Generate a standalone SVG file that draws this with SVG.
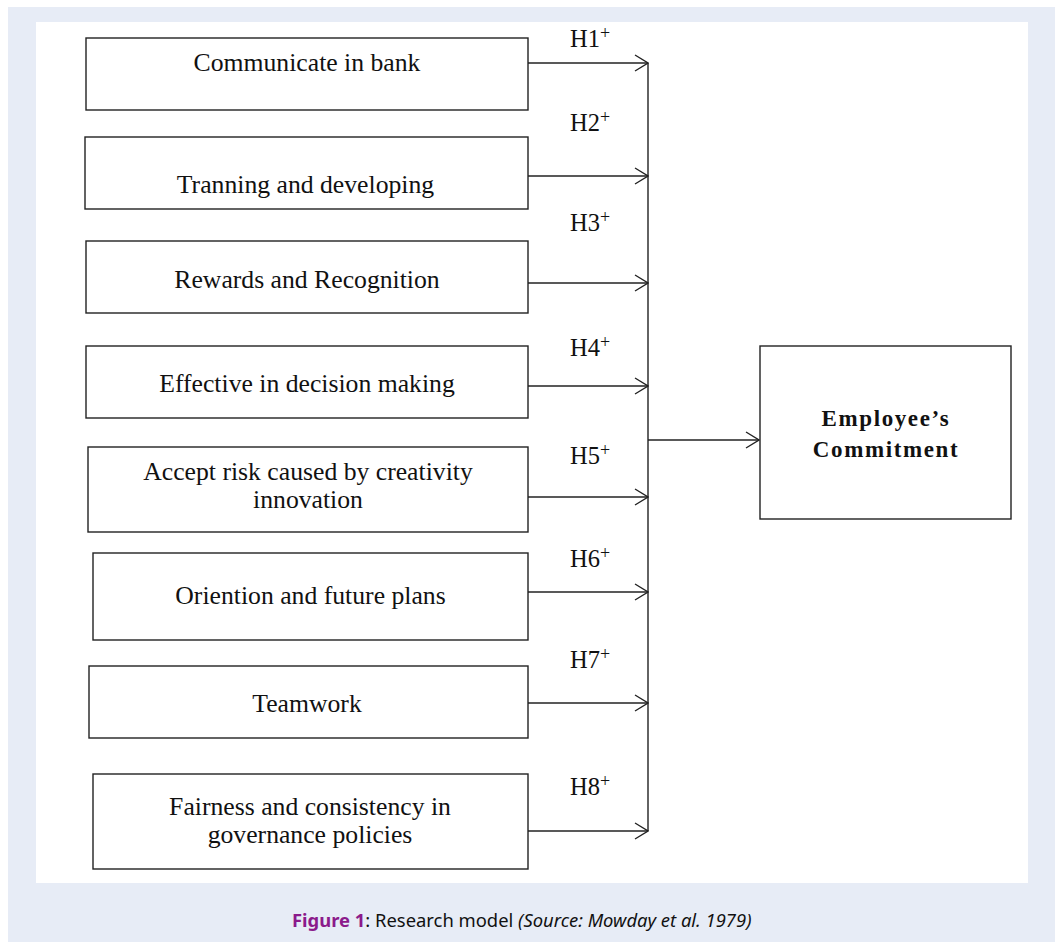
<svg xmlns="http://www.w3.org/2000/svg" width="1058" height="942" viewBox="0 0 1058 942">
<style>
.box{fill:#fff;stroke:#222;stroke-width:1.4}
.t{font-family:"Liberation Serif","Times New Roman",serif;font-size:25.7px;fill:#111;text-anchor:middle}
.h{font-family:"Liberation Serif","Times New Roman",serif;font-size:24.5px;fill:#111}
.sup{font-size:18px}
.b{font-family:"Liberation Serif","Times New Roman",serif;font-size:23px;font-weight:bold;fill:#111;text-anchor:middle;letter-spacing:1.6px}
.ln{fill:none;stroke:#222;stroke-width:1.4}
.cap{font-family:"Noto Sans","Open Sans",sans-serif;font-size:18.4px;fill:#111}
</style>
<defs>
<marker id="arr" markerUnits="userSpaceOnUse" viewBox="0 0 15 18" refX="14" refY="9" markerWidth="15" markerHeight="18" orient="auto">
<path d="M1,1 L14,9 L1,17" fill="none" stroke="#222" stroke-width="1.4"/>
</marker>
</defs>
<rect x="0" y="0" width="1058" height="942" fill="#fff"/>
<rect x="8" y="7" width="1047" height="935" fill="#e7ecf6"/>
<rect x="36" y="22" width="992" height="861" fill="#fff"/>

<g id="n1"><rect class="box" x="86" y="38" width="442" height="72"/><text class="t" x="307" y="71">Communicate in bank</text></g>
<g id="n2"><rect class="box" x="85" y="137" width="443" height="72"/><text class="t" x="305.5" y="193">Tranning  and developing</text></g>
<g id="n3"><rect class="box" x="86" y="241" width="442" height="72"/><text class="t" x="307" y="288">Rewards and Recognition</text></g>
<g id="n4"><rect class="box" x="86" y="346" width="442" height="72"/><text class="t" x="307" y="392">Effective in decision making</text></g>
<g id="n5"><rect class="box" x="88" y="447" width="440" height="85"/><text class="t" x="308" y="480">Accept risk caused by creativity</text><text class="t" x="308" y="508">innovation</text></g>
<g id="n6"><rect class="box" x="93" y="553" width="435" height="87"/><text class="t" x="310.5" y="604">Oriention and future plans</text></g>
<g id="n7"><rect class="box" x="89" y="666" width="439" height="72"/><text class="t" x="307" y="712">Teamwork</text></g>
<g id="n8"><rect class="box" x="93" y="774" width="435" height="95"/><text class="t" x="310" y="815">Fairness and consistency in</text><text class="t" x="310" y="843">governance policies</text></g>
<g id="n9"><rect class="box" x="760" y="346" width="251" height="173"/><text class="b" x="886" y="426">Employee’s</text><text class="b" x="886" y="457">Commitment</text></g>

<g id="connectors">
<line class="ln" x1="648" y1="63" x2="648" y2="831"/>
<line class="ln" x1="528" y1="63" x2="648" y2="63" marker-end="url(#arr)"/>
<line class="ln" x1="528" y1="176" x2="648" y2="176" marker-end="url(#arr)"/>
<line class="ln" x1="528" y1="283" x2="648" y2="283" marker-end="url(#arr)"/>
<line class="ln" x1="528" y1="386" x2="648" y2="386" marker-end="url(#arr)"/>
<line class="ln" x1="528" y1="497" x2="648" y2="497" marker-end="url(#arr)"/>
<line class="ln" x1="528" y1="592" x2="648" y2="592" marker-end="url(#arr)"/>
<line class="ln" x1="528" y1="703" x2="648" y2="703" marker-end="url(#arr)"/>
<line class="ln" x1="528" y1="831" x2="648" y2="831" marker-end="url(#arr)"/>
<line class="ln" x1="648" y1="440" x2="759" y2="440" marker-end="url(#arr)"/>
<text class="h" x="570" y="47">H1<tspan class="sup" dy="-8">+</tspan></text>
<text class="h" x="570" y="131">H2<tspan class="sup" dy="-8">+</tspan></text>
<text class="h" x="570" y="231">H3<tspan class="sup" dy="-8">+</tspan></text>
<text class="h" x="570" y="356">H4<tspan class="sup" dy="-8">+</tspan></text>
<text class="h" x="570" y="464">H5<tspan class="sup" dy="-8">+</tspan></text>
<text class="h" x="570" y="567">H6<tspan class="sup" dy="-8">+</tspan></text>
<text class="h" x="570" y="668">H7<tspan class="sup" dy="-8">+</tspan></text>
<text class="h" x="570" y="795">H8<tspan class="sup" dy="-8">+</tspan></text>
</g>

<text class="cap" x="292" y="927"><tspan fill="#8b1a8b" font-weight="bold">Figure 1</tspan>: Research model <tspan font-style="italic">(Source: Mowday et al. 1979)</tspan></text>
</svg>
